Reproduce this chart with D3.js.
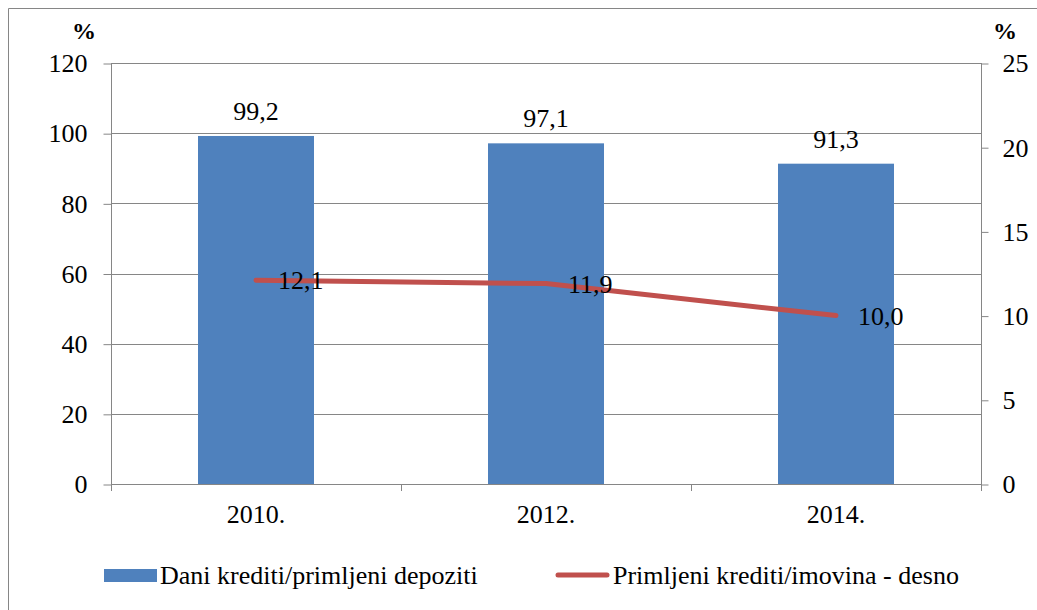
<!DOCTYPE html>
<html><head><meta charset="utf-8">
<script src="https://cdn.jsdelivr.net/npm/d3@7"></script>
<style>body{margin:0;background:#fff} text{font-family:'Liberation Serif';}</style>
</head><body>
<svg id="c" width="1037" height="610" font-family="Liberation Serif" font-size="26"></svg>
<script>
const categories = ["2010.", "2012.", "2014."];
const barValues = [99.2, 97.1, 91.3];
const lineValues = [12.1, 11.9, 10.0];
const leftTicks = [0, 20, 40, 60, 80, 100, 120];
const rightTicks = [0, 5, 10, 15, 20, 25];
const barName = "Dani krediti/primljeni depoziti";
const lineName = "Primljeni krediti/imovina - desno";
const fmt = v => v.toFixed(1).replace(".", ",");

const svg = d3.select("#c");
const L = 111, R = 981, T = 63, B = 484;
const gray = "#868686";
const FONT = "'Liberation Serif'";
const FS = 26;

// outer frame
svg.append("path").attr("d", "M8.5,610 V8.5 H1037").attr("fill", "none").attr("stroke", gray).attr("stroke-width", 1);

const x = d3.scaleBand().domain(categories).range([L, R]).paddingInner(0.6).paddingOuter(0.3);
const xb = d3.scaleBand().domain(categories).range([L, R]);
const yL = d3.scaleLinear().domain([0, 120]).range([B, T]);
const yR = d3.scaleLinear().domain([0, 25]).range([B, T]);

// gridlines
svg.append("g").selectAll("line").data(leftTicks.filter(d => d > 0)).join("line")
  .attr("x1", L).attr("x2", R).attr("y1", d => Math.round(yL(d)) + 0.5).attr("y2", d => Math.round(yL(d)) + 0.5)
  .attr("stroke", gray).attr("stroke-width", 1);

// bars
svg.append("g").selectAll("rect").data(barValues).join("rect")
  .attr("x", (d, i) => x(categories[i])).attr("width", x.bandwidth())
  .attr("y", d => yL(d)).attr("height", d => B - yL(d)).attr("fill", "#4F81BD");

// axes
const leftAxis = d3.axisLeft(yL).tickValues(leftTicks).tickSize(8).tickPadding(16);
const gL = svg.append("g").attr("transform", `translate(${L + 0.5},0.5)`).call(leftAxis);
const rightAxis = d3.axisRight(yR).tickValues(rightTicks).tickSize(7).tickPadding(14);
const gR = svg.append("g").attr("transform", `translate(${R + 0.5},0.5)`).call(rightAxis);
[gL, gR].forEach(g => {
  g.attr("font-family", "Liberation Serif").attr("font-size", FS);
  g.select(".domain").remove();
  g.selectAll("line").attr("stroke", gray);
  g.selectAll("text").attr("fill", "#000");
});
// axis lines
svg.append("line").attr("x1", L + 0.5).attr("x2", L + 0.5).attr("y1", T).attr("y2", B + 7).attr("stroke", gray);
svg.append("line").attr("x1", R + 0.5).attr("x2", R + 0.5).attr("y1", T).attr("y2", B + 7).attr("stroke", gray);
// x axis
svg.append("line").attr("x1", L).attr("x2", R).attr("y1", B + 0.5).attr("y2", B + 0.5).attr("stroke", gray);
const bounds = categories.map(c => xb(c)).concat([R]);
svg.append("g").selectAll("line").data(bounds).join("line")
  .attr("x1", d => Math.round(d) + 0.5).attr("x2", d => Math.round(d) + 0.5).attr("y1", B).attr("y2", B + 7).attr("stroke", gray);
svg.append("g").selectAll("text").data(categories).join("text")
  .attr("x", d => xb(d) + xb.bandwidth() / 2).attr("y", 523).attr("text-anchor", "middle")
  .text(d => d);

// % labels
svg.append("text").attr("x", 84).attr("y", 39).attr("text-anchor", "middle").attr("class", "pct").text("%");
svg.append("text").attr("x", 1005).attr("y", 39).attr("text-anchor", "middle").attr("class", "pct").text("%");

// bar labels
svg.append("g").selectAll("text").data(barValues).join("text")
  .attr("x", (d, i) => xb(categories[i]) + xb.bandwidth() / 2).attr("y", d => yL(d) - 16)
  .attr("text-anchor", "middle").text(d => fmt(d));

// line
const cx = i => xb(categories[i]) + xb.bandwidth() / 2;
svg.append("path").datum(lineValues)
  .attr("d", d3.line().x((d, i) => cx(i)).y(d => yR(d)))
  .attr("fill", "none").attr("stroke", "#C0504D").attr("stroke-width", 5).attr("stroke-linecap", "round").attr("stroke-linejoin", "round");

svg.append("g").selectAll("text").data(lineValues).join("text")
  .attr("x", (d, i) => cx(i) + 22).attr("y", d => yR(d) + 9)
  .text(d => fmt(d));

// legend
svg.append("rect").attr("x", 104).attr("y", 569).attr("width", 53).attr("height", 13).attr("fill", "#4F81BD");
svg.append("text").attr("x", 160).attr("y", 584).text(barName);
svg.append("line").attr("x1", 558).attr("x2", 607).attr("y1", 575).attr("y2", 575)
  .attr("stroke", "#C0504D").attr("stroke-width", 5).attr("stroke-linecap", "round");
svg.append("text").attr("x", 613).attr("y", 584).text(lineName);

svg.selectAll("text")
  .attr("font-family", "Liberation Serif").attr("font-size", FS)
  .style("font-family", FONT).style("font-size", FS + "px").style("fill", "#000");
svg.selectAll("text.pct").attr("font-size", 24).attr("font-weight", "bold")
  .style("font-size", "24px").style("font-weight", "bold");
</script>
</body></html>
